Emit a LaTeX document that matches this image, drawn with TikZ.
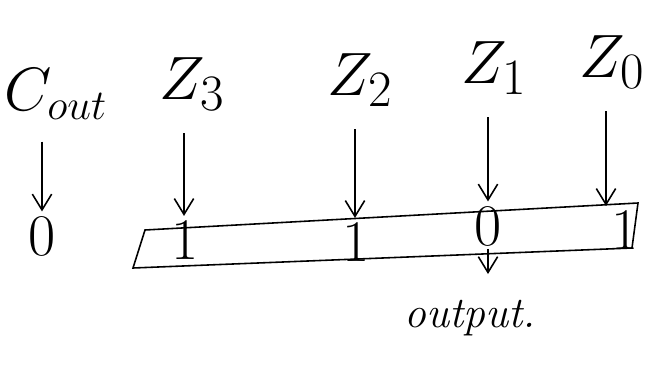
\documentclass[tikz,border=0pt]{standalone}
\usepackage{amsmath, amssymb}
\usetikzlibrary{positioning, arrows.meta, calc}

\tikzset{
  lbl/.style={inner sep=0pt, font=\Huge, scale=1.4},
  bit/.style={inner sep=0pt, font=\Huge, scale=1.35},
}

\begin{document}
\begin{tikzpicture}[x=0.02cm, y=-0.02cm, >={Straight Barb[length=9pt, width=11pt]}, line width=0.9pt]
        \useasboundingbox (0,0) rectangle (654,376);

        % Labels
        \node[lbl] (cout) at (56, 94) {$C_{\scriptscriptstyle out}$};
        \node[lbl] (z3) at (192, 84) {$Z_3$};
        \node[lbl] (z2) at (360, 80) {$Z_2$};
        \node[lbl] (z1) at (494, 68) {$Z_1$};
        \node[lbl] (z0) at (612, 62) {$Z_0$};

        % Values
        \node[bit] (v4) at (42, 236) {0};
        \node[bit] (v3) at (185, 240) {1};
        \node[bit] (v2) at (356, 242) {1};
        \node[bit] (v1) at (488, 226) {0};
        \node[bit] (v0) at (625, 230) {1};

        % Arrows
        \foreach \a/\b/\x in {cout/v4/42, z3/v3/184, z2/v2/355, z1/v1/488, z0/v0/606} {
          \draw[->, shorten <=12pt, shorten >=2pt] (\x, 0 |- \a.south) -- (\x, 0 |- \b.north);
        }

        % Box
        \draw (145, 230) -- (638, 203) -- (632, 248) -- (133, 268) -- cycle;

        % Output
        \coordinate (oend) at (488, 274);
        \node[font=\Huge\itshape] (out) at (470, 318) {output.};
        \draw[->, shorten <=1pt] (v1.south) -- (oend);
\end{tikzpicture}
\end{document}
